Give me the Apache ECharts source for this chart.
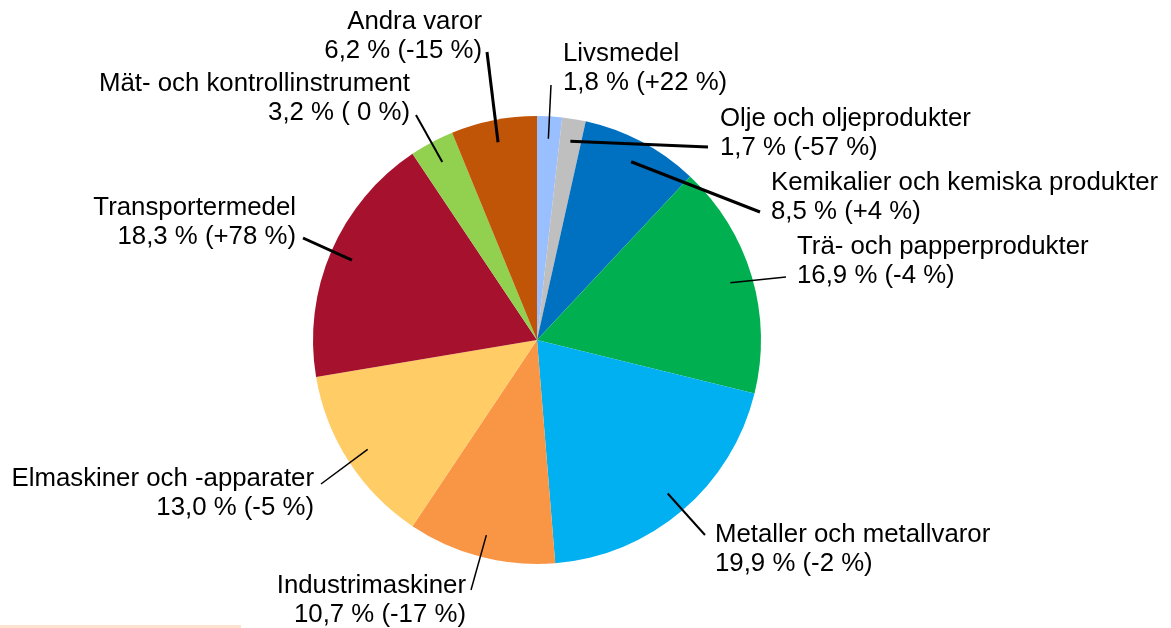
<!DOCTYPE html>
<html>
<head>
<meta charset="utf-8">
<script src="https://cdn.jsdelivr.net/npm/echarts@6/dist/echarts.min.js"></script>
<style>
html, body { margin: 0; padding: 0; background: #fff; }
#pie_exports { width: 1171px; height: 628px; }
</style>
</head>
<body>
<div id="pie_exports"></div>
<script>
// Data
var categories = [
    'Livsmedel', 'Olje och oljeprodukter', 'Kemikalier och kemiska produkter',
    'Trä- och papperprodukter', 'Metaller och metallvaror', 'Industrimaskiner',
    'Elmaskiner och -apparater', 'Transportermedel', 'Mät- och kontrollinstrument',
    'Andra varor'
];
var shares = [1.8, 1.7, 8.5, 16.9, 19.9, 10.7, 13.0, 18.3, 3.2, 6.2];
var changes = [22, -57, 4, -4, -2, -17, -5, 78, 0, -15];

// Styles
var colors = [
    '#99BFFF', '#BFBFBF', '#0070C0', '#00B050', '#00B0F0',
    '#F99646', '#FFCC66', '#A6122D', '#92D050', '#C05508'
];
var lineWidths = [1.5, 3, 3, 1.5, 2, 1.5, 1.5, 3, 2, 3];

// Label layout: [x, y (middle of block), align] and outer end of leader line
var labelPos = [
    [563, 68, 'left'], [720, 133, 'left'], [771, 197, 'left'], [797, 261, 'left'],
    [715, 549, 'left'], [466, 600, 'right'], [314, 493, 'right'], [296, 222, 'right'],
    [410, 98, 'right'], [482, 36, 'right']
];
var lineEnds = [
    [551, 85], [708, 147], [760, 212], [786, 277], [705, 535],
    [471, 590], [321, 484], [303, 238], [416, 115], [487, 52]
];

var centerX = 537, centerY = 340, radius = 224;

var total = shares.reduce(function (a, b) { return a + b; }, 0);

// start of leader line: slice mid angle at 90% radius
function lineStart(i) {
    var before = 0;
    for (var k = 0; k < i; k++) before += shares[k];
    var a = (before + shares[i] / 2) / total * Math.PI * 2;
    return [centerX + Math.sin(a) * radius * 0.9, centerY - Math.cos(a) * radius * 0.9];
}

function fmtChange(v) {
    if (v > 0) return '+' + v;
    if (v < 0) return '-' + Math.abs(v);
    return ' 0';
}

var pieData = categories.map(function (name, i) {
    return { name: name, value: shares[i] };
});

var pie_element = document.getElementById('pie_exports');
var pie = echarts.init(pie_element);

pie.setOption({
    animation: false,
    color: colors,
    textStyle: {
        fontFamily: '"Liberation Sans", Arial, sans-serif'
    },
    graphic: [{
        type: 'rect',
        shape: { x: 0, y: 625, width: 241, height: 3 },
        style: { fill: '#FBE3CF' }
    }],
    series: [{
        // slices
        type: 'pie',
        center: [centerX, centerY],
        radius: radius,
        startAngle: 90,
        clockwise: true,
        silent: true,
        emphasis: { disabled: true },
        itemStyle: { borderWidth: 0 },
        label: { show: false },
        labelLine: { show: false },
        data: pieData
    }, {
        // labels + leader lines drawn on top of the slices
        type: 'pie',
        z: 3,
        center: [centerX, centerY],
        radius: radius,
        startAngle: 90,
        clockwise: true,
        silent: true,
        avoidLabelOverlap: false,
        emphasis: { disabled: true },
        itemStyle: { color: 'rgba(0,0,0,0)', borderWidth: 0 },
        label: {
            show: true,
            position: 'outside',
            color: '#000',
            fontSize: 25.8,
            lineHeight: 29,
            fontFamily: '"Liberation Sans", Arial, sans-serif',
            formatter: function (p) {
                var i = p.dataIndex;
                return categories[i] + '\n' + shares[i].toFixed(1).replace('.', ',') +
                    ' % (' + fmtChange(changes[i]) + ' %)';
            }
        },
        labelLine: {
            show: true,
            lineStyle: { color: '#000', width: 1.5 }
        },
        labelLayout: function (params) {
            var i = params.dataIndex;
            return {
                x: labelPos[i][0],
                y: labelPos[i][1],
                align: labelPos[i][2],
                verticalAlign: 'middle',
                labelLinePoints: [lineStart(i), lineEnds[i], lineEnds[i]]
            };
        },
        data: pieData.map(function (d, i) {
            return {
                name: d.name,
                value: d.value,
                labelLine: { lineStyle: { width: lineWidths[i] } }
            };
        })
    }]
});

var triggerChartResize = function () {
    pie_element && pie.resize();
};
</script>
</body>
</html>
